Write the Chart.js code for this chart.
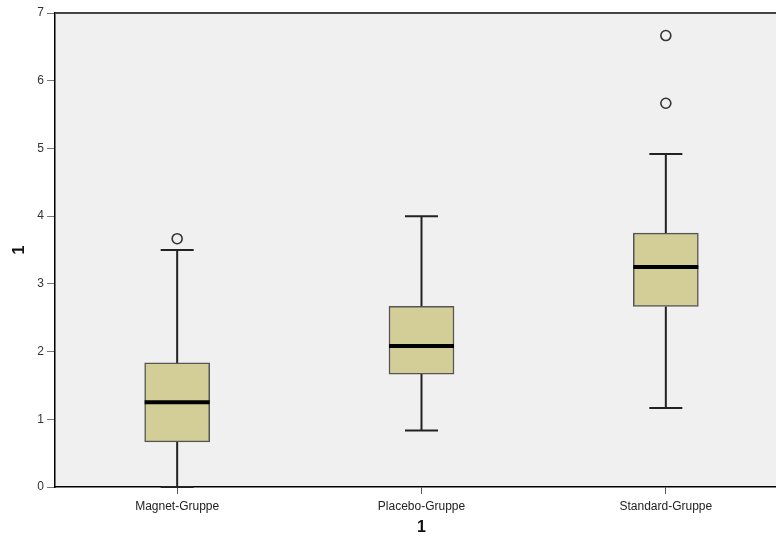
<!DOCTYPE html>
<html>
<head>
<meta charset="utf-8">
<script src="https://cdn.jsdelivr.net/npm/chart.js@4"></script>
<style>
html,body{margin:0;padding:0;background:#fff;overflow:hidden;}
#wrap{width:800px;height:537px;}
</style>
</head>
<body>
<div id="wrap"><canvas id="c" width="800" height="537"></canvas></div>
<script>
const categories = ['Magnet-Gruppe', 'Placebo-Gruppe', 'Standard-Gruppe'];
const whiskerLow = [0, 0.833, 1.167];
const q1 = [0.667, 1.667, 2.667];
const median = [1.25, 2.083, 3.25];
const q3 = [1.833, 2.667, 3.75];
const whiskerHigh = [3.5, 4.0, 4.917];
const outliers = [[3.667], [], [5.667, 6.667]];
const yTicks = [0, 1, 2, 3, 4, 5, 6, 7];
const xTitle = '1';
const yTitle = '1';

const outlierPoints = [];
outliers.forEach((arr, i) => arr.forEach(v => outlierPoints.push({x: categories[i], y: v})));

const boxPlugin = {
  id: 'boxparts',
  beforeDraw(chart) {
    const {ctx, chartArea: a} = chart;
    ctx.save();
    ctx.fillStyle = '#F0F0F0';
    ctx.fillRect(a.left, a.top, a.right - a.left, a.bottom - a.top);
    ctx.restore();
  },
  beforeDatasetsDraw(chart) {
    const {ctx, scales} = chart;
    const xs = scales.x, ys = scales.y;
    ctx.save();
    ctx.strokeStyle = '#222';
    ctx.lineWidth = 2;
    categories.forEach((c, i) => {
      const x = xs.getPixelForValue(i);
      const cap = 16.5;
      const yl = ys.getPixelForValue(whiskerLow[i]);
      const yh = ys.getPixelForValue(whiskerHigh[i]);
      const y1 = ys.getPixelForValue(q1[i]);
      const y3 = ys.getPixelForValue(q3[i]);
      ctx.beginPath();
      ctx.moveTo(x, yh); ctx.lineTo(x, y3);
      ctx.moveTo(x, y1); ctx.lineTo(x, yl);
      ctx.moveTo(x - cap, yh); ctx.lineTo(x + cap, yh);
      ctx.moveTo(x - cap, yl); ctx.lineTo(x + cap, yl);
      ctx.stroke();
    });
    ctx.restore();
  },
  afterDatasetsDraw(chart) {
    const {ctx, scales, chartArea: a} = chart;
    const xs = scales.x, ys = scales.y;
    const meta = chart.getDatasetMeta(0);
    ctx.save();
    ctx.strokeStyle = '#000';
    ctx.lineWidth = 4;
    categories.forEach((c, i) => {
      const bar = meta.data[i];
      const half = bar.width / 2;
      const x = xs.getPixelForValue(i);
      const y = ys.getPixelForValue(median[i]);
      ctx.beginPath();
      ctx.moveTo(x - half, y); ctx.lineTo(x + half, y);
      ctx.stroke();
    });
    ctx.strokeStyle = '#444';
    ctx.lineWidth = 2;
    ctx.beginPath();
    ctx.moveTo(a.left, a.top); ctx.lineTo(a.right, a.top);
    ctx.stroke();
    ctx.restore();
  }
};

new Chart(document.getElementById('c'), {
  data: {
    labels: categories,
    datasets: [
      {
        type: 'bar',
        data: categories.map((c, i) => [q1[i], q3[i]]),
        backgroundColor: '#D3CE98',
        borderColor: '#555',
        borderWidth: 1.5,
        borderSkipped: false,
        barThickness: 65,
        order: 2
      },
      {
        type: 'line',
        data: outlierPoints,
        showLine: false,
        pointStyle: 'circle',
        pointRadius: 5,
        pointBorderWidth: 1.6,
        pointBorderColor: '#333',
        pointBackgroundColor: 'rgba(0,0,0,0)',
        order: 1
      }
    ]
  },
  options: {
    responsive: false,
    animation: false,
    devicePixelRatio: 1,
    layout: {padding: {left: 0, top: 13, right: 12, bottom: 0}},
    plugins: {legend: {display: false}, tooltip: {enabled: false}},
    scales: {
      x: {
        type: 'category',
        offset: true,
        grid: {display: true, drawOnChartArea: false, drawTicks: true, tickLength: 7, offset: false, color: '#555', lineWidth: 1},
        border: {display: true, color: '#000', width: 1.5},
        ticks: {color: '#222', font: {family: 'Liberation Sans, Arial', size: 12}, padding: 5, maxRotation: 0},
        title: {display: true, text: xTitle, color: '#111', font: {family: 'Liberation Sans, Arial', size: 16, weight: 'bold'}, padding: {top: 3, bottom: 0}},
        afterFit(s) { s.height = 50; }
      },
      y: {
        type: 'linear',
        min: 0, max: 7,
        afterBuildTicks(s) { s.ticks = yTicks.map(v => ({value: v})); },
        grid: {display: true, drawOnChartArea: false, drawTicks: true, tickLength: 8, color: '#777', lineWidth: 1},
        border: {display: true, color: '#000', width: 1.5},
        ticks: {color: '#333', font: {family: 'Liberation Sans, Arial', size: 12}, padding: 3},
        title: {display: true, text: yTitle, color: '#111', font: {family: 'Liberation Sans, Arial', size: 16, weight: 'bold'}, padding: {top: 10, bottom: 4}},
        afterFit(s) { s.width = 55; }
      }
    }
  },
  plugins: [boxPlugin]
});
</script>
</body>
</html>
